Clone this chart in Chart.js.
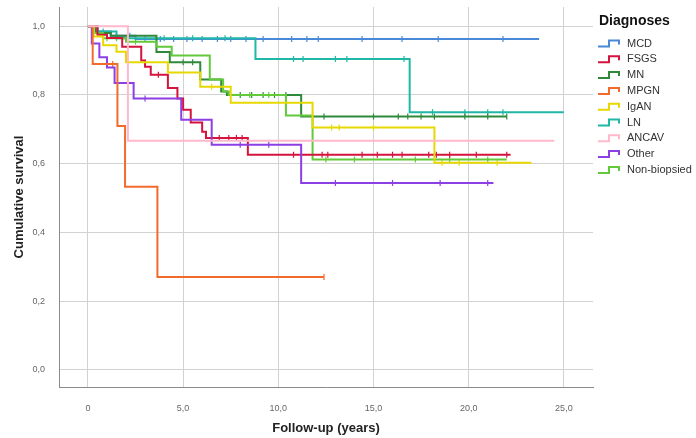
<!DOCTYPE html>
<html>
<head>
<meta charset="utf-8">
<script src="https://cdn.jsdelivr.net/npm/chart.js@4.4.1/dist/chart.umd.min.js"></script>
<style>
html,body{margin:0;padding:0;background:#fff;}
#wrap{width:696px;height:438px;position:relative;}
</style>
</head>
<body>
<div id="wrap"><canvas id="c" width="696" height="438"></canvas></div>
<script>
// ---- Data ----
const categories = ['MCD','FSGS','MN','MPGN','IgAN','LN','ANCAV','Other','Non-biopsied'];
const colors = ['#4a88d8','#d4143c','#2e8a3a','#f26a2c','#e6d800','#1fb8a6','#ffb8cc','#8c3fe4','#62c93a'];

const xTicks = [0,5,10,15,20,25];
const xTickLabels = ['0','5,0','10,0','15,0','20,0','25,0'];
const yTicks = [0,0.2,0.4,0.6,0.8,1.0];
const yTickLabels = ['0,0','0,2','0,4','0,6','0,8','1,0'];

const mcdTime  = [0,0.5,1.2,2.5,23.7];
const mcdSurv  = [1,0.985,0.972,0.963,0.963];
const fsgsTime = [0,0.5,1.0,1.8,2.8,3.0,3.3,4.2,4.7,5.0,5.4,6.0,6.2,8.4,22.2];
const fsgsSurv = [1,0.975,0.966,0.94,0.90,0.882,0.859,0.82,0.79,0.757,0.72,0.693,0.675,0.626,0.626];
const mnTime   = [0,0.4,1.2,3.6,4.3,5.9,7.0,7.3,11.2,22.0];
const mnSurv   = [1,0.98,0.972,0.925,0.895,0.845,0.81,0.80,0.737,0.737];
const mpgnTime = [0,0.25,1.55,1.95,3.65,12.4];
const mpgnSurv = [1,0.89,0.71,0.533,0.27,0.27];
const iganTime = [0,0.3,0.8,1.5,2.0,4.2,5.9,7.5,11.8,18.2,23.3];
const iganSurv = [1,0.97,0.945,0.926,0.895,0.865,0.824,0.777,0.705,0.603,0.603];
const lnTime   = [0,0.5,1.5,8.8,16.9,25.0];
const lnSurv   = [1,0.985,0.965,0.905,0.75,0.75];
const ancavTime = [0,2.1,24.5];
const ancavSurv = [1,0.667,0.667];
const otherTime = [0,0.2,0.6,1.0,1.4,2.4,4.9,6.5,11.2,21.3];
const otherSurv = [1,0.95,0.91,0.88,0.835,0.79,0.728,0.655,0.544,0.544];
const nonbTime = [0,0.3,0.8,2.0,3.6,4.4,6.4,7.1,7.4,10.4,11.8,22.0];
const nonbSurv = [1,0.98,0.965,0.955,0.94,0.915,0.845,0.81,0.80,0.74,0.612,0.612];

// censored observation times
const mcdCens  = [1.5,2.2,3.0,3.8,4.5,5.2,6.0,6.8,7.5,8.3,9.2,10.7,11.5,12.1,14.4,16.5,18.4,21.8];
const fsgsCens = [3.7,6.9,7.4,7.8,8.1,10.8,12.3,12.6,14.4,15.2,16.0,16.5,17.9,18.3,19.0,20.4,22.0];
const mnCens   = [5.0,5.5,8.0,8.6,9.2,9.8,10.4,12.4,15.0,16.3,16.8,17.5,18.2,19.8,21.0,22.0];
const mpgnCens = [1.3,12.4];
const iganCens = [3.0,6.5,12.8,13.2,15.0,18.6,19.5,21.5];
const lnCens   = [0.8,2.5,4.0,5.5,7.2,10.8,11.3,13.0,13.6,16.6,18.1,19.8,21.0,21.8];
const ancavCens = [];
const otherCens = [3.0,8.0,9.5,13.0,16.0,18.5,21.0];
const nonbCens = [1.0,1.5,2.5,8.5,9.5,12.5,14.0,17.2,19.0,21.0];

const times = [mcdTime,fsgsTime,mnTime,mpgnTime,iganTime,lnTime,ancavTime,otherTime,nonbTime];
const survs = [mcdSurv,fsgsSurv,mnSurv,mpgnSurv,iganSurv,lnSurv,ancavSurv,otherSurv,nonbSurv];
const cens  = [mcdCens,fsgsCens,mnCens,mpgnCens,iganCens,lnCens,ancavCens,otherCens,nonbCens];

// step function lookup for censor marks
function survAt(t, ts, ss){ let v = ss[0]; for(let i=0;i<ts.length;i++){ if(ts[i] <= t) v = ss[i]; } return v; }

const datasets = [];
// draw order: later datasets on top
const drawOrder = [6,3,7,4,1,8,2,5,0];
drawOrder.forEach(i=>{
  datasets.push({
    label: categories[i],
    data: times[i].map((t,k)=>({x:t,y:survs[i][k]})),
    borderColor: colors[i], backgroundColor: colors[i],
    borderWidth: 2, stepped: true, pointRadius: 0, fill:false
  });
});
drawOrder.forEach(i=>{
  datasets.push({
    label: categories[i]+' censored',
    data: cens[i].map(t=>({x:t,y:survAt(t,times[i],survs[i])})),
    borderColor: colors[i], backgroundColor: colors[i],
    showLine:false, pointStyle:'line', rotation:90, pointRadius:3, pointBorderWidth:1.2
  });
});

// custom legend drawn at the right
const legendPlugin = {
  id:'kmLegend',
  afterDraw(chart){
    const ctx = chart.ctx;
    const x0 = chart.chartArea.right + 4;
    ctx.save();
    ctx.fillStyle = '#111';
    ctx.font = 'bold 14px "Liberation Sans", Arial, sans-serif';
    ctx.textBaseline = 'middle';
    ctx.fillText('Diagnoses', x0+2, 21);
    ctx.font = '11px "Liberation Sans", Arial, sans-serif';
    categories.forEach((c,i)=>{
      const y = 43.5 + i*15.8;
      ctx.strokeStyle = colors[i];
      ctx.lineWidth = 2;
      ctx.beginPath();
      ctx.moveTo(x0+1, y+3); ctx.lineTo(x0+12, y+3); ctx.lineTo(x0+12, y-3);
      ctx.lineTo(x0+22, y-3); ctx.lineTo(x0+22, y+1);
      ctx.stroke();
      ctx.fillStyle = '#333';
      ctx.fillText(c, x0+30, y);
    });
    ctx.restore();
  }
};

new Chart(document.getElementById('c'), {
  type:'line',
  data:{datasets},
  plugins:[legendPlugin],
  options:{
    responsive:false, animation:false,
    layout:{padding:{top:7,right:103,left:0,bottom:0}},
    plugins:{legend:{display:false}, tooltip:{enabled:false}},
    scales:{
      x:{
        type:'linear', min:-1.52, max:26.53,
        afterBuildTicks:(s)=>{ s.ticks = xTicks.map(v=>({value:v})); },
        afterFit:(s)=>{ s.height = 51; s.paddingLeft = 0; s.paddingRight = 0; },
        ticks:{ padding:16, color:'#666', font:{size:9, family:'"Liberation Sans", Arial, sans-serif'},
          callback:(v)=>{ const k = xTicks.indexOf(v); return k>=0 ? xTickLabels[k] : ''; } },
        grid:{ color:'#d2d2d2', drawTicks:false, lineWidth:1 },
        border:{ color:'#8a8a8a', width:1 },
        title:{ display:true, text:'Follow-up (years)', color:'#222',
          font:{size:13, weight:'bold', family:'"Liberation Sans", Arial, sans-serif'}, padding:{top:0,bottom:2} }
      },
      y:{
        type:'linear', min:-0.05, max:1.056,
        afterBuildTicks:(s)=>{ s.ticks = yTicks.map(v=>({value:v})); },
        afterFit:(s)=>{ s.width = 59; s.paddingTop = 0; s.paddingBottom = 0; },
        ticks:{ padding:14, color:'#666', font:{size:9, family:'"Liberation Sans", Arial, sans-serif'},
          callback:(v)=>{ const k = yTicks.findIndex(t=>Math.abs(t-v)<1e-9); return k>=0 ? yTickLabels[k] : ''; } },
        grid:{ color:'#d2d2d2', drawTicks:false, lineWidth:1 },
        border:{ color:'#8a8a8a', width:1 },
        title:{ display:true, text:'Cumulative survival', color:'#222',
          font:{size:13, weight:'bold', family:'"Liberation Sans", Arial, sans-serif'}, padding:{top:12,bottom:0} }
      }
    }
  }
});
</script>
</body>
</html>
